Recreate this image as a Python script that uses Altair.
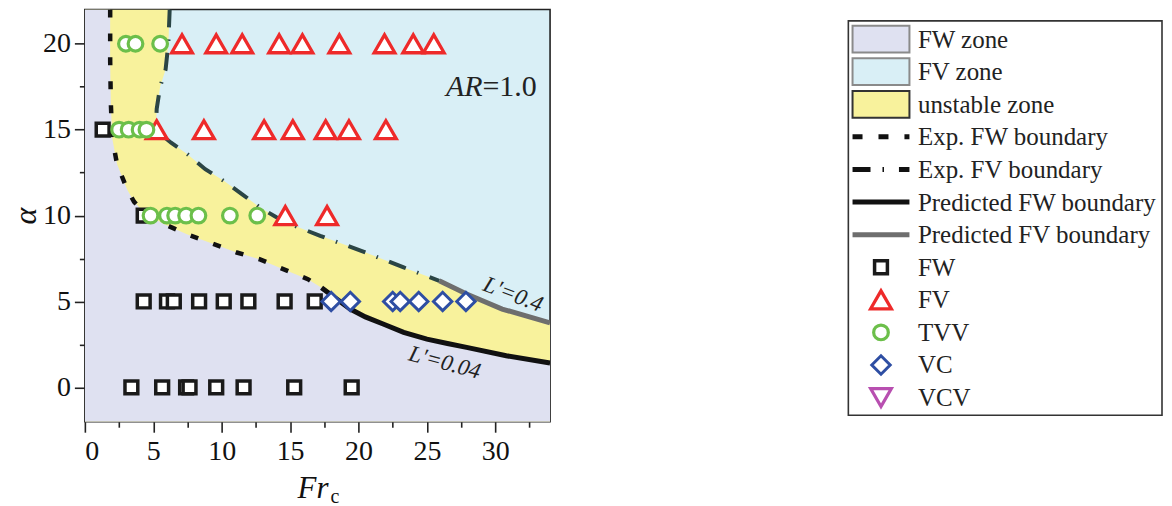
import altair as alt
import pandas as pd

SERIF = "Liberation Serif"
LAV = "#dfe1f1"
CYAN = "#d9eff6"
YEL = "#f8f29c"

# ---------------- experimental points ----------------
fw_x = [1.3, 4.3, 4.3, 6.0, 6.5, 8.35, 10.15, 11.95, 14.6, 16.8,
        3.4, 5.65, 7.4, 7.65, 9.6, 11.6, 15.3, 19.5]
fw_y = [15, 10, 5, 5, 5, 5, 5, 5, 5, 5,
        0, 0, 0, 0, 0, 0, 0, 0]
fv_x = [7.1, 9.6, 11.5, 14.2, 15.9, 18.6, 21.9, 24.0, 25.5,
        5.25, 8.7, 13.1, 15.2, 17.6, 19.3, 22.0,
        14.65, 17.7]
fv_y = [20] * 9 + [15] * 7 + [10] * 2
tvv_x = [3.0, 3.7, 5.5,
         2.5, 3.2, 4.0, 4.5,
         4.8, 6.0, 6.6, 7.4, 8.3, 10.6, 12.6]
tvv_y = [20] * 3 + [15] * 4 + [10] * 7
vc_x = [18.0, 19.4, 22.5, 23.05, 24.4, 26.15, 27.85]
vc_y = [5] * 7

# ---------------- boundaries ----------------
fw_exp_x = [1.85, 1.85, 1.9, 2.0, 2.35, 3.1, 3.6, 4.4, 5.8, 7.5, 9.3, 11.1, 12.8, 14.5, 16.3, 17.3]
fw_exp_y = [22.0, 19.0, 16.5, 14.5, 13.0, 11.5, 10.8, 10.1, 9.5, 8.9, 8.37, 7.85, 7.45, 6.88, 6.3, 5.8]
fw_pred_x = [17.3, 18.3, 19.4, 20.5, 21.8, 23.3, 25.0, 26.5, 27.9, 30.8, 34.0]
fw_pred_y = [5.8, 5.2, 4.56, 4.1, 3.69, 3.2, 2.81, 2.55, 2.33, 1.84, 1.42]
fv_exp_x = [6.2, 6.1, 5.9, 5.5, 5.25, 5.2, 5.6, 6.3, 7.5, 8.8, 10.15, 11.5, 12.8, 14.0, 15.5, 17.2, 20.2, 23.3, 25.9]
fv_exp_y = [22.0, 20.0, 18.5, 17.5, 16.2, 15.3, 14.7, 14.24, 13.57, 12.7, 12.02, 11.24, 10.47, 9.9, 9.35, 8.82, 7.95, 6.98, 6.2]
fv_pred_x = [25.9, 27.9, 30.5, 34.0]
fv_pred_y = [6.2, 5.43, 4.56, 3.75]

X_MIN, X_MAX = 0, 34
Y_MIN, Y_MAX = -2, 22

# ---------------- styles / legend ----------------
types = ["FW", "FV", "TVV", "VC", "VCV"]
shapes = ["square", "triangle-up", "circle", "diamond", "triangle-down"]
colors = ["#1a1a1a", "#ee2a2a", "#6cbf4a", "#2e4ea3", "#b84fb0"]
sizes = [165, 430, 216, 340, 430]
widths = [3.5, 3.3, 3.2, 3.0, 3.2]
style = {t: (s, c, z, w) for t, s, c, z, w in zip(types, shapes, colors, sizes, widths)}

legend_labels = ["FW zone", "FV zone", "unstable zone", "Exp. FW boundary",
                 "Exp. FV boundary", "Predicted FW boundary", "Predicted FV boundary",
                 "FW", "FV", "TVV", "VC", "VCV"]
zone_fill = [LAV, CYAN, YEL]
zone_stroke = ["#8a8a8a", "#8a8a8a", "#333333"]

annot_text = ["L'=0.4", "L'=0.04"]
annot_x = [31.3, 26.3]
annot_y = [5.4, 1.44]
annot_angle = [21, 15]

# ---------------- data frames ----------------
rows = []
for t, xs, ys in [("FW", fw_x, fw_y), ("FV", fv_x, fv_y), ("TVV", tvv_x, tvv_y), ("VC", vc_x, vc_y)]:
    s, c, z, w = style[t]
    for a, b in zip(xs, ys):
        rows.append({"x": a, "y": b, "type": t, "shape": s, "color": c, "size": z, "sw": w})
pts = pd.DataFrame(rows)

fw_all_x = fw_exp_x + fw_pred_x[1:]
fw_all_y = fw_exp_y + fw_pred_y[1:]
fv_all_x = fv_exp_x + fv_pred_x[1:]
fv_all_y = fv_exp_y + fv_pred_y[1:]

lav = pd.DataFrame({"y": [Y_MIN] + fw_all_y[::-1], "xb": [X_MAX] + fw_all_x[::-1]})
lav["x0"] = X_MIN
yel = pd.DataFrame({"y": [Y_MIN] + fv_all_y[::-1], "xb": [X_MAX] + fv_all_x[::-1]})
yel["x0"] = X_MIN


def bdf(xs, ys):
    return pd.DataFrame({"x": xs, "y": ys, "i": list(range(len(xs)))})


xs_ = alt.Scale(domain=[X_MIN, X_MAX], nice=False, zero=False)
ys_ = alt.Scale(domain=[Y_MIN, Y_MAX], nice=False, zero=False)

tick_cond = {"condition": {"test": "datum.value % 5 === 0", "value": 10.5}, "value": 5.5}
lab_expr = "datum.value % 5 === 0 ? format(datum.value, 'd') : ''"

xaxis = alt.Axis(values=[i * 2.5 for i in range(14)], labelExpr=lab_expr, tickSize=tick_cond,
                 tickWidth=1.6, tickColor="#222222", domain=False, grid=False,
                 labelFont=SERIF, labelFontSize=28, labelColor="#111111", labelPadding=5,
                 title=None)
yaxis = alt.Axis(values=[i * 2.5 for i in range(9)], labelExpr=lab_expr, tickSize=tick_cond,
                 tickWidth=1.6, tickColor="#222222", domain=False, grid=False,
                 labelFont=SERIF, labelFontSize=28, labelColor="#111111", labelPadding=4,
                 title="α", titleFont=SERIF, titleFontStyle="italic", titleFontSize=32,
                 titleFontWeight="normal", titleColor="#111111", titlePadding=0)


def X(f="x"):
    return alt.X(f"{f}:Q", scale=xs_, axis=xaxis)


def Y(f="y"):
    return alt.Y(f"{f}:Q", scale=ys_, axis=yaxis)


yel_layer = alt.Chart(yel).mark_area(orient="horizontal", color=YEL, opacity=1, clip=True).encode(
    y=Y(), x=X("x0"), x2="xb:Q")
lav_layer = alt.Chart(lav).mark_area(orient="horizontal", color=LAV, opacity=1, clip=True).encode(
    y=Y(), x=X("x0"), x2="xb:Q")

exp_fw = alt.Chart(bdf(fw_exp_x, fw_exp_y)).mark_line(
    color="#111111", strokeWidth=4.5, strokeDash=[8, 16], clip=True, strokeCap="butt").encode(
    x=X(), y=Y(), order="i:Q")
exp_fv = alt.Chart(bdf(fv_exp_x, fv_exp_y)).mark_line(
    color="#2b4545", strokeWidth=4, strokeDash=[18, 12, 1.5, 12], clip=True, strokeCap="butt").encode(
    x=X(), y=Y(), order="i:Q")
pred_fw = alt.Chart(bdf(fw_pred_x, fw_pred_y)).mark_line(
    color="#111111", strokeWidth=5, clip=True).encode(x=X(), y=Y(), order="i:Q")
pred_fv = alt.Chart(bdf(fv_pred_x, fv_pred_y)).mark_line(
    color="#6e6e6e", strokeWidth=5, clip=True).encode(x=X(), y=Y(), order="i:Q")

points = alt.Chart(pts).mark_point(filled=True, fill="white", opacity=1).encode(
    x=X(), y=Y(),
    shape=alt.Shape("shape:N", scale=None),
    stroke=alt.Stroke("color:N", scale=None),
    size=alt.Size("size:Q", scale=None),
    strokeWidth=alt.StrokeWidth("sw:Q", scale=None),
)

ar_df = pd.DataFrame({"x": [29.06], "y": [16.96], "a": ["AR"], "b": ["=1.0"]})
ar1 = alt.Chart(ar_df).mark_text(font=SERIF, fontSize=30, fontStyle="italic", align="right",
                                 baseline="alphabetic", color="#222222").encode(x=X(), y=Y(), text="a:N")
ar2 = alt.Chart(ar_df).mark_text(font=SERIF, fontSize=30, align="left",
                                 baseline="alphabetic", color="#222222").encode(x=X(), y=Y(), text="b:N")

ann_df = pd.DataFrame({"x": annot_x, "y": annot_y, "t": annot_text, "ang": annot_angle})
ann = alt.Chart(ann_df).mark_text(font=SERIF, fontSize=23, fontStyle="italic", align="center",
                                  baseline="middle", color="#222222").encode(
    x=X(), y=Y(), text="t:N", angle=alt.Angle("ang:Q", scale=None))

title_df = pd.DataFrame({"a": ["Fr"], "b": ["c"]})
t_fr = alt.Chart(title_df).mark_text(font=SERIF, fontSize=31, fontStyle="italic", align="left",
                                     baseline="alphabetic", color="#111111").encode(
    x=alt.value(213), y=alt.value(489), text="a:N")
t_c = alt.Chart(title_df).mark_text(font=SERIF, fontSize=20, align="left",
                                    baseline="alphabetic", color="#111111").encode(
    x=alt.value(246), y=alt.value(494), text="b:N")

main = alt.layer(yel_layer, lav_layer, exp_fw, exp_fv, pred_fw, pred_fv, points,
                 ar1, ar2, ann, t_fr, t_c).properties(
    width=466, height=413,
    view=alt.ViewBackground(fill=CYAN, stroke="#222222", strokeWidth=1.6))

# ---------------- legend panel ----------------
LW = 316
lx = alt.Scale(domain=[0, LW], nice=False, zero=False)
ly = alt.Scale(domain=[-0.91, 11.74], nice=False, zero=False, reverse=True)
LX = lambda f: alt.X(f"{f}:Q", scale=lx, axis=None)
LY = lambda f: alt.Y(f"{f}:Q", scale=ly, axis=None)

box = alt.Chart(pd.DataFrame({"x0": [0.8], "x1": [LW - 1.0], "y0": [-0.56], "y1": [11.54]})).mark_rect(
    fill="white", stroke="#333333", strokeWidth=1.6).encode(
    x=LX("x0"), x2="x1:Q", y=LY("y0"), y2="y1:Q")

sw_df = pd.DataFrame({"r0": [i - 0.41 for i in range(3)], "r1": [i + 0.41 for i in range(3)],
                      "x0": [5] * 3, "x1": [62] * 3, "fill": zone_fill, "stroke": zone_stroke})
swatch = alt.Chart(sw_df).mark_rect(strokeWidth=2).encode(
    x=LX("x0"), x2="x1:Q", y=LY("r0"), y2="r1:Q",
    fill=alt.Fill("fill:N", scale=None), stroke=alt.Stroke("stroke:N", scale=None))


def leg_line(row, **kw):
    d = pd.DataFrame({"x0": [5], "x1": [62], "r": [row]})
    return alt.Chart(d).mark_rule(**kw).encode(x=LX("x0"), x2="x1:Q", y=LY("r"))


l_fw = leg_line(3, color="#111111", strokeWidth=5, strokeDash=[10, 16], strokeCap="butt")
l_fv = leg_line(4, color="#111111", strokeWidth=5, strokeDash=[18, 12, 1.5, 15], strokeCap="butt")
l_pfw = leg_line(5, color="#111111", strokeWidth=5)
l_pfv = leg_line(6, color="#6e6e6e", strokeWidth=5)

sym_rows = []
for k, t in enumerate(types):
    s, c, z, w = style[t]
    sym_rows.append({"x": 33.5, "r": 7 + k, "shape": s, "color": c, "size": z, "sw": w})
sym_df = pd.DataFrame(sym_rows)
syms = alt.Chart(sym_df).mark_point(filled=True, fill="white", opacity=1).encode(
    x=LX("x"), y=LY("r"),
    shape=alt.Shape("shape:N", scale=None),
    stroke=alt.Stroke("color:N", scale=None),
    size=alt.Size("size:Q", scale=None),
    strokeWidth=alt.StrokeWidth("sw:Q", scale=None))

lab_df = pd.DataFrame({"x": [70.5] * 12, "r": list(range(12)), "t": legend_labels})
labels = alt.Chart(lab_df).mark_text(font=SERIF, fontSize=25, align="left", baseline="alphabetic",
                                     dy=8.5, color="#222222").encode(x=LX("x"), y=LY("r"), text="t:N")

legend = alt.layer(box, swatch, l_fw, l_fv, l_pfw, l_pfv, syms, labels).properties(
    width=LW, height=413, view=alt.ViewBackground(stroke="transparent", fill="white"))

chart = alt.hconcat(main, legend, spacing=296).properties(
    padding={"left": 0, "top": 0, "right": 0, "bottom": 0}
).configure_axis(labelFont=SERIF, titleFont=SERIF)

chart.save("out.html", embed_options={"renderer": "svg", "actions": False})
